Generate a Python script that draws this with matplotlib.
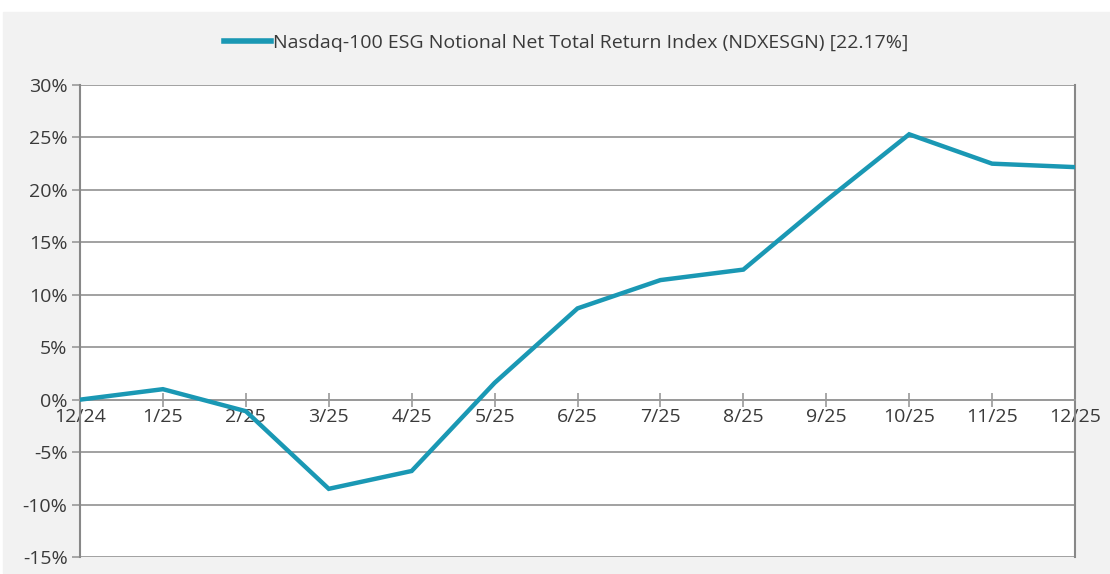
import matplotlib.pyplot as plt
from matplotlib.patches import Rectangle
from matplotlib.ticker import FuncFormatter

months = ['12/24', '1/25', '2/25', '3/25', '4/25', '5/25', '6/25',
          '7/25', '8/25', '9/25', '10/25', '11/25', '12/25']
returns = [0.0, 1.0, -1.1, -8.5, -6.8, 1.6, 8.7, 11.4, 12.4, 19.0, 25.3, 22.5, 22.17]
label = 'Nasdaq-100 ESG Notional Net Total Return Index (NDXESGN) [22.17%]'
y_ticks = [-15, -10, -5, 0, 5, 10, 15, 20, 25, 30]

plt.rcParams['font.family'] = ['Open Sans', 'DejaVu Sans']
line_color = '#1a98b4'
grid_color = '#9a9a9a'
text_color = '#3a3a3a'
fs = 14

fig = plt.figure(figsize=(11.1, 5.74), dpi=100, facecolor='white')
fig.patches.append(Rectangle((3 / 1110, 1 / 574), 1, (573 - 12) / 574,
                             transform=fig.transFigure, color='#f2f2f2', zorder=-1))

ax = fig.add_axes([80 / 1110, (574 - 557) / 574, 995 / 1110, 472 / 574])
x = range(len(months))
ax.plot(x, returns, color=line_color, linewidth=3.2, label=label, zorder=3,
        solid_joinstyle='miter')

ax.set_xlim(0, len(months) - 1)
ax.set_ylim(-15, 30)
ax.set_yticks(y_ticks)
ax.yaxis.set_major_formatter(FuncFormatter(lambda v, p: f'{v:.0f}%'))
ax.set_xticks(list(x))
ax.set_xticklabels(months)

ax.grid(axis='y', color=grid_color, linewidth=1.3)
ax.set_axisbelow(True)
for side in ['left', 'right']:
    ax.spines[side].set_color('#888888')
    ax.spines[side].set_linewidth(1.5)
ax.spines['top'].set_visible(False)
ax.spines['bottom'].set_position(('data', 0))
ax.spines['bottom'].set_color(grid_color)
ax.spines['bottom'].set_linewidth(1.3)

ax.tick_params(axis='x', direction='inout', length=10, width=1.2, colors=grid_color,
               labelcolor=text_color, labelsize=fs, pad=1)
ax.tick_params(axis='y', length=6, width=1.2, colors=grid_color,
               labelcolor=text_color, labelsize=fs, pad=3)

fig.legend(loc='center', bbox_to_anchor=(566 / 1110, 1 - 43 / 574), frameon=False,
           fontsize=fs, handlelength=2.4, handletextpad=0.1, labelcolor=text_color)
leg = fig.legends[0]
leg.get_lines()[0].set_linewidth(4)

plt.savefig('out.png', dpi=100, facecolor=fig.get_facecolor())
